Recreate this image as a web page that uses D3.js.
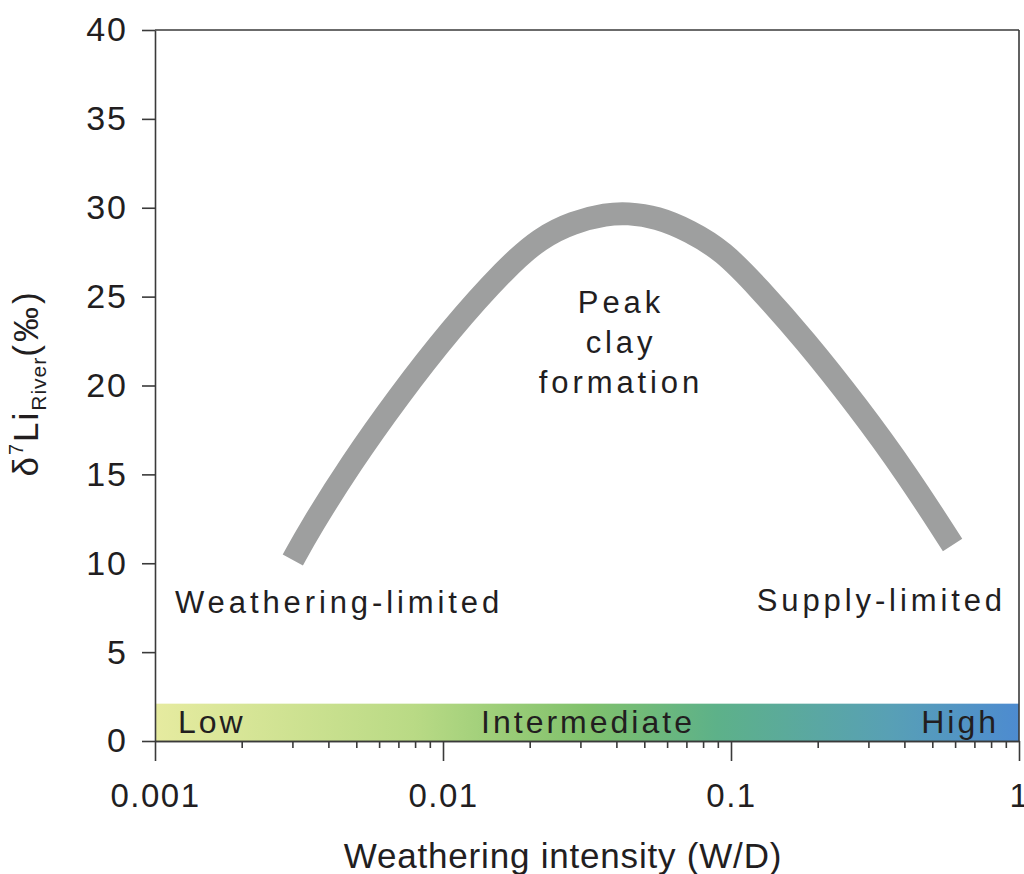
<!DOCTYPE html>
<html>
<meta charset="utf-8">
<style>
  body { margin: 0; background: #fff; }
  text { font-family: "Liberation Sans", Arial, sans-serif; fill: #221e1f; }
  .axis path, .axis line { stroke: #3a3a3a; stroke-width: 1.6; }
</style>
<body>
<script src="https://cdn.jsdelivr.net/npm/d3@7"></script>
<script>
// curve (W/D, delta7Li)
var curveX = [0.00301, 0.00343, 0.00480, 0.00698, 0.01057, 0.01667, 0.02173, 0.02825, 0.03707,
              0.04355, 0.0553, 0.0721, 0.0938, 0.1230, 0.1807, 0.2762, 0.4056, 0.588];
var curveY = [10.18, 11.87, 15.64, 19.35, 23.12, 26.67, 28.30, 29.20, 29.65,
              29.70, 29.48, 28.69, 27.57, 25.6, 22.56, 18.79, 15.08, 11.03];

var yTicks = [0, 5, 10, 15, 20, 25, 30, 35, 40];
var xMajor = [0.001, 0.01, 0.1, 1];
var xMajorLabels = ["0.001", "0.01", "0.1", "1"];

// intensity bar: labels and colour stops
var barLabels = ["Low", "Intermediate", "High"];
var barStops = [
  [0, "#e6eba0"], [0.3, "#b9da85"], [0.5, "#80c16c"],
  [0.65, "#5db189"], [0.85, "#58a0b5"], [1, "#4d8bd0"]
];

var width = 1024, height = 874;
var margin = {top: 30, right: 5, bottom: 133, left: 155};

var svg = d3.select("body").append("svg")
    .attr("width", width)
    .attr("height", height);

var x = d3.scaleLog()
    .domain([0.001, 1])
    .range([margin.left, width - margin.right]);

var y = d3.scaleLinear()
    .domain([0, 40])
    .range([height - margin.bottom, margin.top]);

// gradient bar
var grad = svg.append("defs").append("linearGradient")
    .attr("id", "bar")
    .attr("x1", "0%").attr("x2", "100%");
grad.selectAll("stop")
    .data(barStops)
  .enter().append("stop")
    .attr("offset", function(d) { return d[0]; })
    .attr("stop-color", function(d) { return d[1]; });

svg.append("rect")
    .attr("x", x(0.001))
    .attr("y", y(2.1))
    .attr("width", x(1) - x(0.001))
    .attr("height", y(0) - y(2.1))
    .style("fill", "url(#bar)");

var barText = svg.append("g")
    .style("font-size", "32px")
    .style("letter-spacing", "3px");
barText.append("text").attr("x", 178).attr("y", 733).text(barLabels[0]);
barText.append("text").attr("x", 588).attr("y", 733).attr("text-anchor", "middle").text(barLabels[1]);
barText.append("text").attr("x", 999).attr("y", 733).attr("text-anchor", "end").text(barLabels[2]);

// the curve (b-spline smooths out reading noise)
var line = d3.line()
    .x(function(d) { return x(d[0]); })
    .y(function(d) { return y(d[1]); })
    .curve(d3.curveBasis);

svg.append("path")
    .datum(d3.zip(curveX, curveY))
    .attr("d", line)
    .style("fill", "none")
    .style("stroke", "#9e9f9f")
    .style("stroke-width", 23)
    .style("stroke-linecap", "butt");

// labels on the plot
var notes = svg.append("g")
    .style("font-size", "31px")
    .style("letter-spacing", "3.9px");
notes.append("text").attr("x", 175).attr("y", 613).text("Weathering-limited");
notes.append("text").attr("x", 1006).attr("y", 611).attr("text-anchor", "end").text("Supply-limited");
var peak = notes.append("text").attr("text-anchor", "middle");
["Peak", "clay", "formation"].forEach(function(s, i) {
  peak.append("tspan").attr("x", 621).attr("y", 313 + i * 40).text(s);
});

// frame
svg.append("line")
    .attr("x1", x(0.001)).attr("x2", x(1))
    .attr("y1", y(40)).attr("y2", y(40))
    .style("stroke", "#3a3a3a").style("stroke-width", 1.6);
svg.append("line")
    .attr("x1", x(1)).attr("x2", x(1))
    .attr("y1", y(40)).attr("y2", y(0))
    .style("stroke", "#3a3a3a").style("stroke-width", 1.6);

// y axis
var yAxis = svg.append("g")
    .attr("class", "axis")
    .attr("transform", "translate(" + margin.left + ",0)")
    .call(d3.axisLeft(y).tickValues(yTicks).tickSize(13).tickPadding(14).tickSizeOuter(0));
yAxis.attr("font-family", null).attr("font-size", null);
yAxis.selectAll("text")
    .style("font-size", "34px")
    .style("letter-spacing", "2px")
    .attr("fill", null);

// x axis, minor then major ticks
var minor = [];
[0.001, 0.01, 0.1].forEach(function(d) {
  for (var k = 2; k < 10; k++) minor.push(d * k);
});
svg.append("g")
    .attr("class", "axis")
    .attr("transform", "translate(0," + y(0) + ")")
    .call(d3.axisBottom(x).tickValues(minor).tickSize(7).tickFormat("").tickSizeOuter(0));

var xAxis = svg.append("g")
    .attr("class", "axis")
    .attr("transform", "translate(0," + y(0) + ")")
    .call(d3.axisBottom(x).tickValues(xMajor).tickSize(20).tickPadding(23)
      .tickFormat(function(d, i) { return xMajorLabels[i]; }).tickSizeOuter(0));
xAxis.attr("font-family", null).attr("font-size", null);
xAxis.selectAll("text")
    .style("font-size", "33px")
    .style("letter-spacing", "1.5px")
    .attr("fill", null);

// axis titles
svg.append("text")
    .attr("x", 563)
    .attr("y", 868)
    .attr("text-anchor", "middle")
    .style("font-size", "35px")
    .style("letter-spacing", "0.8px")
    .text("Weathering intensity (W/D)");

var yTitle = svg.append("text")
    .attr("transform", "translate(38,383) rotate(-90)")
    .attr("text-anchor", "middle")
    .style("font-size", "35px")
    .style("letter-spacing", "2px");
yTitle.append("tspan").text("δ");
yTitle.append("tspan").attr("dy", -15).style("font-size", "20px").text("7");
yTitle.append("tspan").attr("dy", 15).text("Li");
yTitle.append("tspan").attr("dy", 8).style("font-size", "21px").style("letter-spacing", "1px").text("River");
yTitle.append("tspan").attr("dy", -8).style("letter-spacing", "3px").text("(‰)");
</script>
</body>
</html>
